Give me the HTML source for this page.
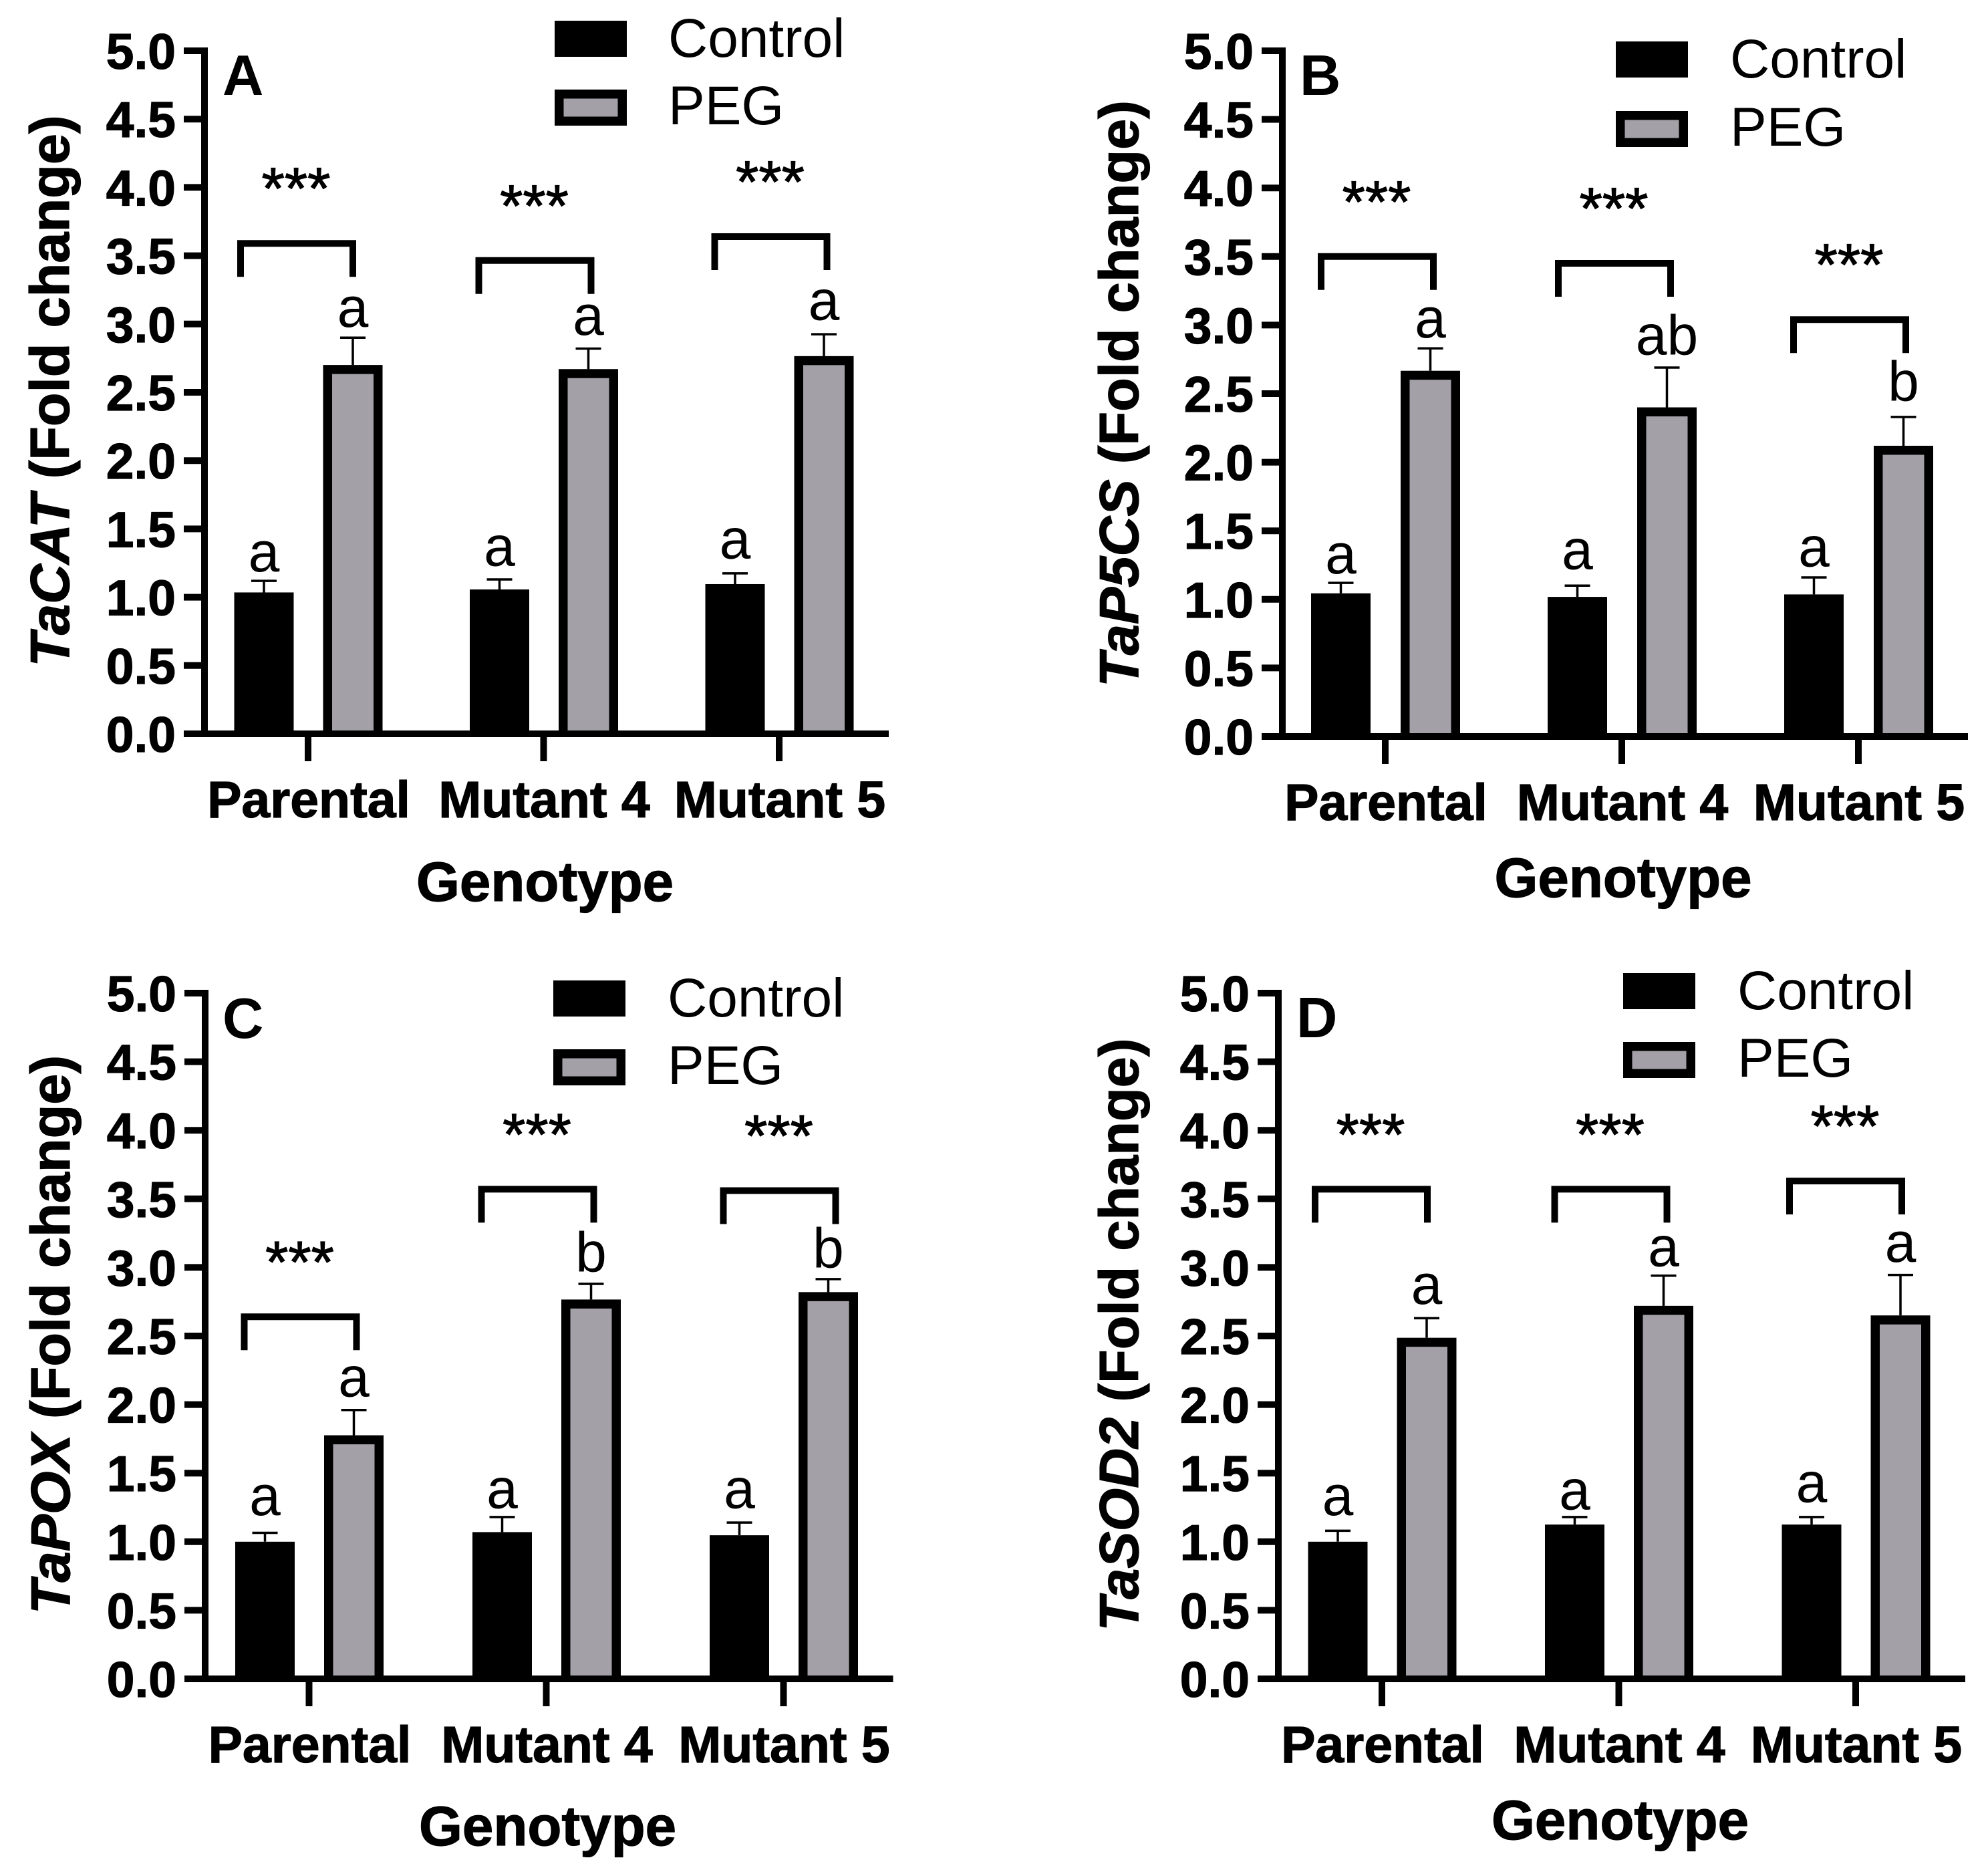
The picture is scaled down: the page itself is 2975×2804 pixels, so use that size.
<!DOCTYPE html>
<html lang="en">
<head>
<meta charset="utf-8">
<title>Relative gene expression under PEG treatment</title>
<style>
html,body{margin:0;padding:0;background:#fff;}
#figure{display:block;width:2975px;height:2804px;}
text{font-family:"Liberation Sans",Arial,sans-serif;fill:#000;}
.heavy{stroke:#000;stroke-width:1.2px;}
</style>
</head>
<body>
<svg id="figure" xmlns="http://www.w3.org/2000/svg" width="2975" height="2804" viewBox="0 0 2975 2804"></svg>
<script>
// ---- Shared categories and ticks ----
const categories = ['Parental', 'Mutant 4', 'Mutant 5'];
const yTickLabels = ['0.0', '0.5', '1.0', '1.5', '2.0', '2.5', '3.0', '3.5', '4.0', '4.5', '5.0'];
const seriesNames = ['Control', 'PEG'];

// ---- Panel A: TaCAT ----
const aControl = [1.035, 1.057, 1.096];
const aPeg = [2.70, 2.67, 2.765];
const aControlErrTop = [1.12, 1.13, 1.175];
const aPegErrTop = [2.90, 2.82, 2.925];
const aBracketLevel = [3.59, 3.465, 3.64];
const aControlLetters = ['a', 'a', 'a'];
const aPegLetters = ['a', 'a', 'a'];
const aControlLetterLevel = [1.19, 1.23, 1.285];
const aPegLetterLevel = [2.98, 2.92, 3.03];

// ---- Panel B: TaP5CS ----
const bControl = [1.044, 1.018, 1.036];
const bPeg = [2.667, 2.40, 2.12];
const bControlErrTop = [1.12, 1.10, 1.16];
const bPegErrTop = [2.83, 2.69, 2.33];
const bBracketLevel = [3.50, 3.45, 3.04];
const bControlLetters = ['a', 'a', 'a'];
const bPegLetters = ['a', 'ab', 'b'];
const bControlLetterLevel = [1.19, 1.22, 1.24];
const bPegLetterLevel = [2.91, 2.785, 2.45];

// ---- Panel C: TaPOX ----
const cControl = [1.00, 1.07, 1.047];
const cPeg = [1.776, 2.766, 2.82];
const cControlErrTop = [1.065, 1.18, 1.14];
const cPegErrTop = [1.96, 2.88, 2.915];
const cBracketLevel = [2.64, 3.57, 3.56];
const cControlLetters = ['a', 'a', 'a'];
const cPegLetters = ['a', 'b', 'b'];
const cControlLetterLevel = [1.195, 1.245, 1.245];
const cPegLetterLevel = [2.06, 2.97, 3.0];

// ---- Panel D: TaSOD2 ----
const dControl = [1.00, 1.125, 1.125];
const dPeg = [2.487, 2.72, 2.65];
const dControlErrTop = [1.08, 1.18, 1.18];
const dPegErrTop = [2.63, 2.94, 2.945];
const dBracketLevel = [3.57, 3.57, 3.63];
const dControlLetters = ['a', 'a', 'a'];
const dPegLetters = ['a', 'a', 'a'];
const dControlLetterLevel = [1.195, 1.235, 1.29];
const dPegLetterLevel = [2.735, 3.01, 3.04];

const SVGNS = 'http://www.w3.org/2000/svg';
const root = document.getElementById('figure');
const GREY = '#a3a1a7';
const YMAX = 5;

function mk(tag, attrs, parent, txt) {
  const el = document.createElementNS(SVGNS, tag);
  for (const k in attrs) el.setAttribute(k, attrs[k]);
  if (txt !== undefined) el.textContent = txt;
  parent.appendChild(el);
  return el;
}

function drawPanel(p) {
  const yScale = v => p.y0 - (v / YMAX) * (p.y0 - p.y5);
  const xGroup = i => p.g1 + i * p.gStep;
  const xControl = i => xGroup(i) - p.barOffset + 0.5;
  const xPeg = i => xGroup(i) + p.barOffset + 0.5;
  const barW = 89, sw = 13.5, capW = 38, legLen = 50;
  const tickLeft = p.axisX - 31;

  const g = mk('g', {}, root);
  
  

  categories.forEach((cat, i) => {
    // control error bar
    const cx = xControl(i);
    const ce = mk('path', {d: `M${cx} ${yScale(p.control[i])}V${yScale(p.controlErr[i])}M${cx - capW / 2} ${yScale(p.controlErr[i])}H${cx + capW / 2}`, fill: 'none', stroke: '#000', 'stroke-width': 3.5}, g);
    
    
    // control bar
    const cb = mk('rect', {x: cx - barW / 2, y: yScale(p.control[i]), width: barW, height: p.y0 - yScale(p.control[i]), fill: '#000'}, g);
    
    
    // peg error bar
    const px = xPeg(i);
    const pe = mk('path', {d: `M${px} ${yScale(p.peg[i])}V${yScale(p.pegErr[i])}M${px - capW / 2} ${yScale(p.pegErr[i])}H${px + capW / 2}`, fill: 'none', stroke: '#000', 'stroke-width': 3.5}, g);
    
    
    // peg bar: black outline rect with grey interior open at the baseline
    const pb = mk('rect', {x: px - barW / 2, y: yScale(p.peg[i]), width: barW, height: p.y0 - yScale(p.peg[i]), fill: '#000'}, g);
    
    
    const pf = mk('rect', {x: px - barW / 2 + sw, y: yScale(p.peg[i]) + sw, width: barW - 2 * sw, height: p.y0 - yScale(p.peg[i]) - sw, fill: GREY}, g);
    
    
    // letters
    const cl = mk('text', {x: cx, y: yScale(p.controlLetterLevel[i]), 'text-anchor': 'middle', 'font-size': 84}, g, p.controlLetters[i]);
    
    
    const pl = mk('text', {x: px, y: yScale(p.pegLetterLevel[i]), 'text-anchor': 'middle', 'font-size': 84}, g, p.pegLetters[i]);
    
    
    // bracket
    const bc = xGroup(i) + p.bracketShift[i];
    const by = yScale(p.bracket[i]);
    const br = mk('path', {d: `M${bc - 84} ${by + legLen}V${by}H${bc + 84}V${by + legLen}`, fill: 'none', stroke: '#000', 'stroke-width': 10}, g);
    
    
    const st = mk('text', {x: bc - 1, y: by - 52, 'text-anchor': 'middle', 'font-size': 88, 'class': 'heavy'}, g, '***');
    
    
    // x tick + label
    const xt = mk('line', {x1: xGroup(i), x2: xGroup(i), y1: p.y0, y2: p.y0 + 41, stroke: '#000', 'stroke-width': 10}, g);
    
    
    const xl = mk('text', {x: xGroup(i) + 1, y: p.y0 + 125, 'text-anchor': 'middle', 'font-size': 77, 'font-weight': 700, 'class': 'heavy'}, g, cat);
    
    
  });

  // y axis with ticks
  yTickLabels.forEach(lab => {
    const v = parseFloat(lab);
    const t = mk('line', {x1: tickLeft, x2: p.axisX, y1: yScale(v), y2: yScale(v), stroke: '#000', 'stroke-width': 10}, g);
    
    
    const l = mk('text', {x: tickLeft - 12, y: yScale(v) + 27, 'text-anchor': 'end', 'font-size': 75, 'font-weight': 700, 'class': 'heavy'}, g, lab);
    
    
  });
  const ya = mk('line', {x1: p.axisX, x2: p.axisX, y1: p.y5 - 5, y2: p.y0 + 5, stroke: '#000', 'stroke-width': 10}, g);
  
  
  const xa = mk('line', {x1: tickLeft, x2: xGroup(2) + 164, y1: p.y0, y2: p.y0, stroke: '#000', 'stroke-width': 10}, g);
  
  

  // axis titles
  const xTitle = mk('text', {x: xGroup(1) + 2, y: p.y0 + p.xTitleGap, 'text-anchor': 'middle', 'font-size': 83.5, 'font-weight': 700, 'class': 'heavy'}, g, 'Genotype');
  
  

  const yTitle = mk('text', {transform: `translate(${p.yTitleX} ${p.yTitleY}) rotate(-90)`, 'text-anchor': 'middle', 'font-size': 83, 'font-weight': 700, 'class': 'heavy'}, g);
  
  
  mk('tspan', {'font-style': 'italic'}, yTitle, p.gene);
  mk('tspan', {}, yTitle, ' (Fold change)');

  // panel letter
  const pl = mk('text', {x: p.letterX, y: p.letterY, 'font-size': 85, 'font-weight': 700}, g, p.id);
  
  

  // legend
  const lg = mk('g', {}, g);
  
  
  const s1 = mk('rect', {x: p.legX, y: p.legY1, width: 108, height: 54, fill: '#000'}, lg);
  
  
  const t1 = mk('text', {x: p.legTextX, y: p.legY1 + 54, 'font-size': 82}, lg, seriesNames[0]);
  
  
  const s2 = mk('rect', {x: p.legX + sw / 2, y: p.legY2 + sw / 2, width: 108 - sw, height: 54 - sw, fill: GREY, stroke: '#000', 'stroke-width': sw}, lg);
  
  
  const t2 = mk('text', {x: p.legTextX, y: p.legY2 + 52, 'font-size': 82}, lg, seriesNames[1]);
  
  
}

drawPanel({id: 'A', gene: 'TaCAT',
  control: aControl, peg: aPeg, controlErr: aControlErrTop, pegErr: aPegErrTop, bracket: aBracketLevel,
  controlLetters: aControlLetters, pegLetters: aPegLetters, controlLetterLevel: aControlLetterLevel, pegLetterLevel: aPegLetterLevel,
  axisX: 306, y0: 1098, y5: 76, g1: 461, gStep: 352.5, barOffset: 66.5, bracketShift: [-17, -13, -12.5],
  xTitleGap: 250, yTitleX: 103, yTitleY: 585, letterX: 333, letterY: 142,
  legX: 830, legY1: 31, legY2: 134, legTextX: 1000});

drawPanel({id: 'B', gene: 'TaP5CS',
  control: bControl, peg: bPeg, controlErr: bControlErrTop, pegErr: bPegErrTop, bracket: bBracketLevel,
  controlLetters: bControlLetters, pegLetters: bPegLetters, controlLetterLevel: bControlLetterLevel, pegLetterLevel: bPegLetterLevel,
  axisX: 1919, y0: 1102, y5: 76, g1: 2073, gStep: 354, barOffset: 67, bracketShift: [-12, -11, -13],
  xTitleGap: 240, yTitleX: 1703, yTitleY: 589, letterX: 1945, letterY: 142,
  legX: 2418, legY1: 62, legY2: 166, legTextX: 2589});

drawPanel({id: 'C', gene: 'TaPOX',
  control: cControl, peg: cPeg, controlErr: cControlErrTop, pegErr: cPegErrTop, bracket: cBracketLevel,
  controlLetters: cControlLetters, pegLetters: cPegLetters, controlLetterLevel: cControlLetterLevel, pegLetterLevel: cPegLetterLevel,
  axisX: 307, y0: 2512, y5: 1486, g1: 462.5, gStep: 355, barOffset: 66.5, bracketShift: [-13, -13, -6],
  xTitleGap: 249, yTitleX: 104, yTitleY: 1997, letterX: 333, letterY: 1553,
  legX: 828, legY1: 1467, legY2: 1570, legTextX: 999});

drawPanel({id: 'D', gene: 'TaSOD2',
  control: dControl, peg: dPeg, controlErr: dControlErrTop, pegErr: dPegErrTop, bracket: dBracketLevel,
  controlLetters: dControlLetters, pegLetters: dPegLetters, controlLetterLevel: dControlLetterLevel, pegLetterLevel: dPegLetterLevel,
  axisX: 1913, y0: 2512, y5: 1486, g1: 2068, gStep: 354.5, barOffset: 66.5, bracketShift: [-16, -12, -15],
  xTitleGap: 240, yTitleX: 1703, yTitleY: 1997, letterX: 1940, letterY: 1552,
  legX: 2429, legY1: 1456, legY2: 1559, legTextX: 2600});
</script>
</body>
</html>
